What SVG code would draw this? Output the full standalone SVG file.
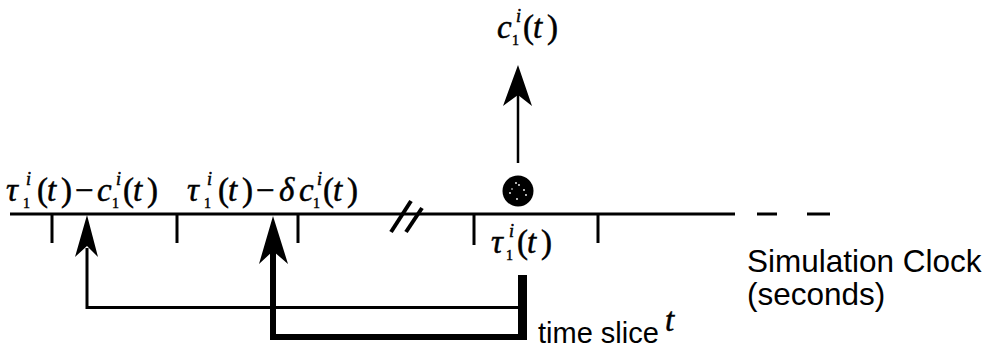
<svg xmlns="http://www.w3.org/2000/svg" width="986" height="349" viewBox="0 0 986 349">
<style>
.ln{stroke:#000;fill:none;stroke-linecap:butt}
.ah{fill:#000;stroke:none}
.m{font-family:"Liberation Serif","Times New Roman",serif;font-style:italic;font-size:33px;fill:#000;stroke:#000;stroke-width:0.5}
.up{font-style:normal}
.sup{font-size:18px}
.sub{font-size:14px;font-style:normal}
.sans{font-family:"Liberation Sans",Arial,sans-serif;fill:#000}
</style>
<rect width="986" height="349" fill="#fff"/>
<g id="timeline">
<line class="ln" x1="10" y1="214" x2="735" y2="214" stroke-width="3"/>
<line class="ln" x1="757" y1="214" x2="777" y2="214" stroke-width="3"/>
<line class="ln" x1="807" y1="214" x2="830" y2="214" stroke-width="3"/>
<g class="ln" stroke-width="3">
<line x1="52" y1="214" x2="52" y2="243"/>
<line x1="177" y1="214" x2="177" y2="243"/>
<line x1="298" y1="214" x2="298" y2="243"/>
<line x1="474" y1="214" x2="474" y2="245"/>
<line x1="598" y1="214" x2="598" y2="243"/>
</g>
<g class="ln" stroke-width="4" stroke-linecap="round">
<line x1="391" y1="232" x2="411" y2="201"/>
<line x1="406" y1="232" x2="422" y2="208"/>
</g>
</g>
<g id="label-start">
<text class="m" y="201"><tspan x="6">τ</tspan><tspan x="37" class="up">(</tspan><tspan x="47">t</tspan><tspan x="61" class="up">)</tspan><tspan x="75" class="up">−</tspan><tspan x="97">c</tspan><tspan x="123" class="up">(</tspan><tspan x="133">t</tspan><tspan x="147" class="up">)</tspan></text>
<text class="m sup" x="26" y="185">i</text><text class="m sub" x="23" y="208">1</text>
<text class="m sup" x="116" y="185">i</text><text class="m sub" x="112" y="208">1</text>
</g>
<g id="label-delta">
<text class="m" y="201"><tspan x="187">τ</tspan><tspan x="218" class="up">(</tspan><tspan x="228">t</tspan><tspan x="242" class="up">)</tspan><tspan x="256" class="up">−</tspan><tspan x="279">δ</tspan><tspan x="299">c</tspan><tspan x="323" class="up">(</tspan><tspan x="333">t</tspan><tspan x="347" class="up">)</tspan></text>
<text class="m sup" x="207" y="185">i</text><text class="m sub" x="204" y="208">1</text>
<text class="m sup" x="317" y="185">i</text><text class="m sub" x="313" y="208">1</text>
</g>
<g id="label-top">
<text class="m" y="38"><tspan x="497">c</tspan><tspan x="523" class="up">(</tspan><tspan x="533">t</tspan><tspan x="547" class="up">)</tspan></text>
<text class="m sup" x="516" y="22">i</text><text class="m sub" x="512" y="45">1</text>
</g>
<g id="label-tau">
<text class="m" y="253"><tspan x="491">τ</tspan><tspan x="517" class="up">(</tspan><tspan x="527">t</tspan><tspan x="541" class="up">)</tspan></text>
<text class="m sup" x="509" y="237">i</text><text class="m sub" x="506" y="260">1</text>
</g>
<g id="event-dot">
<circle cx="518" cy="191" r="15.5" fill="#000"/>
<g fill="#fff"><circle cx="516" cy="183" r="0.9"/><circle cx="519" cy="185" r="0.9"/><circle cx="510" cy="193" r="0.9"/><circle cx="524" cy="190" r="0.9"/><circle cx="526" cy="195" r="0.9"/><circle cx="517" cy="199" r="0.9"/><circle cx="512" cy="189" r="0.8"/></g>
</g>
<g id="label-clock" class="sans">
<text x="747" y="272" font-size="31.5">Simulation Clock</text>
<text x="747" y="305" font-size="31.5">(seconds)</text>
</g>
<g id="label-slice">
<text class="sans" x="538" y="343" font-size="29">time slice</text>
<text class="m" x="665" y="331" font-size="22" stroke-width="0">t</text>
</g>
<g id="connectors">
<line class="ln" x1="518" y1="95" x2="518" y2="163" stroke-width="2.5"/>
<polygon class="ah" points="518,65 532,106 518,95 503,106"/>
<path class="ln" d="M87,248 V307.5 H521" stroke-width="3"/>
<polygon class="ah" points="87,215 98,257 87,246 75,257"/>
<path class="ln" d="M273,250 V337 H527" stroke-width="6"/>
<polygon class="ah" points="273,216 288,264 273,251 259,264"/>
<rect x="518" y="275" width="9" height="65" fill="#000"/>
</g>
</svg>
